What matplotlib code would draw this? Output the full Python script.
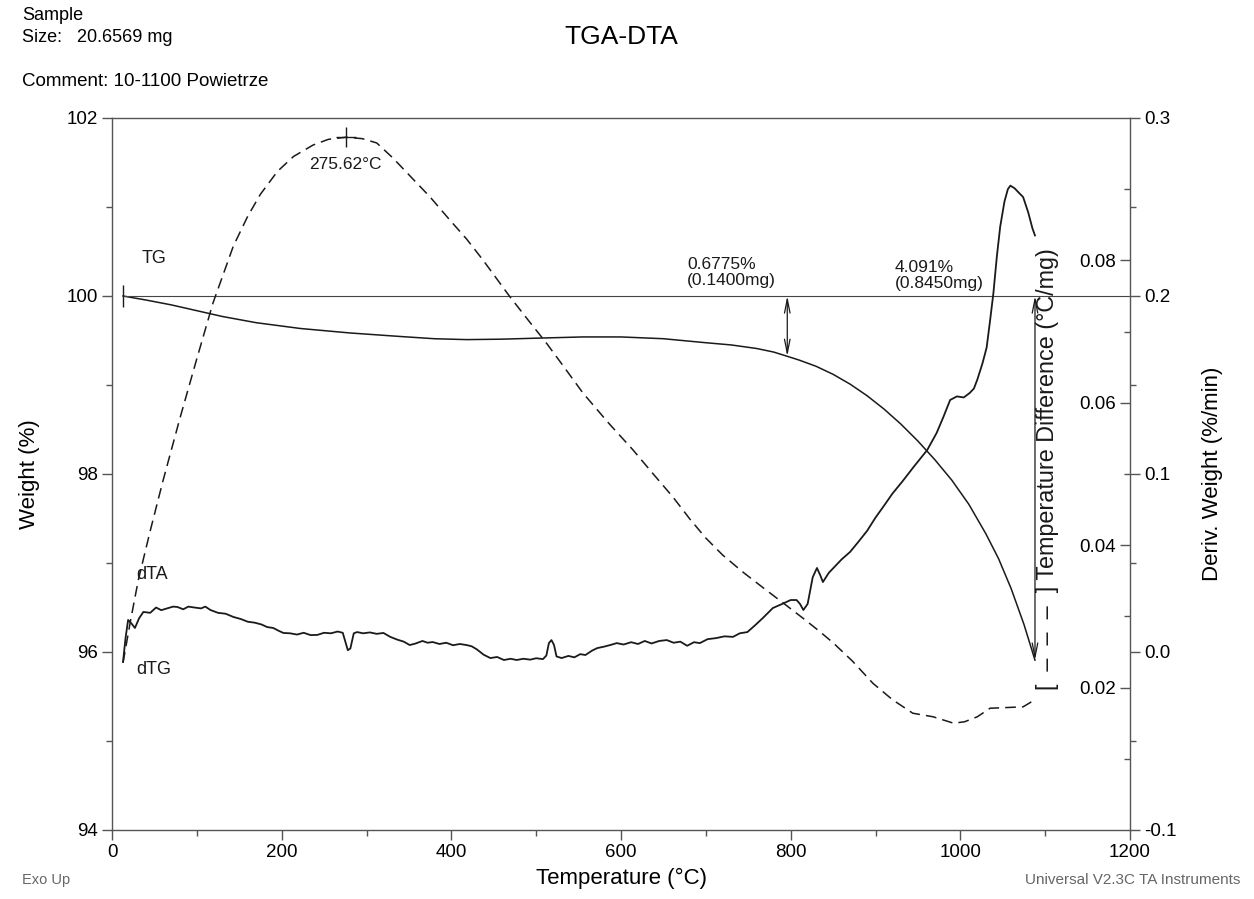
import numpy as np
import matplotlib
matplotlib.use("Agg")
import matplotlib.pyplot as plt
from matplotlib.ticker import MultipleLocator, FixedLocator

plt.rcParams['font.family'] = ['Liberation Sans', 'DejaVu Sans']

# TG curve: temperature (C), weight (%)
tg_t = [13, 40, 70, 100, 130, 170, 222, 280, 340, 380, 418, 460, 496, 555, 600,
        650, 700, 730, 760, 780, 796, 810, 830, 850, 870, 890, 910, 930, 950,
        970, 990, 1010, 1030, 1045, 1060, 1075, 1088]
tg_w = [100.00, 99.955, 99.90, 99.835, 99.77, 99.70, 99.635, 99.585, 99.545,
        99.52, 99.51, 99.515, 99.525, 99.54, 99.54, 99.52, 99.475, 99.45, 99.41,
        99.37, 99.3225, 99.28, 99.21, 99.12, 99.01, 98.88, 98.73, 98.56, 98.37,
        98.16, 97.93, 97.66, 97.33, 97.05, 96.71, 96.31, 95.909]

# DTA curve: temperature (C), temperature difference (C/mg)
dta_t = [13, 22, 31, 45, 60, 80, 100, 119, 143, 160, 175, 195, 214, 237, 255,
         275.62, 295, 312, 331, 351, 375, 398, 418, 437, 453, 469, 490, 512, 533,
         555, 585, 614, 638, 661, 681, 700, 720, 745, 770, 791, 815, 833, 850,
         873, 897, 920, 944, 968, 992, 1005, 1020, 1035, 1055, 1074, 1088]
dta_v = [0.0235, 0.0295, 0.0351, 0.0420, 0.0490, 0.0578, 0.0662, 0.0740, 0.0820,
         0.0862, 0.0893, 0.0925, 0.0946, 0.0962, 0.0970, 0.0973, 0.0971, 0.0965,
         0.0944, 0.0919, 0.0889, 0.0857, 0.0830, 0.0801, 0.0775, 0.0749, 0.0717,
         0.0684, 0.0650, 0.0614, 0.0572, 0.0534, 0.0500, 0.0468, 0.0437, 0.0410,
         0.0386, 0.0361, 0.0338, 0.0319, 0.0297, 0.0280, 0.0263, 0.0237, 0.0206,
         0.0183, 0.0164, 0.0159, 0.0150, 0.0152, 0.0159, 0.0171, 0.0172, 0.0173,
         0.0183]

# dTG curve: temperature (C), deriv. weight (%/min)
dtg_t = [13, 16, 19, 23, 27, 32, 37, 45, 52, 58, 65, 72, 77, 84, 90, 97, 105,
         110, 116, 125, 134, 143, 152, 160, 168, 176, 183, 190, 197, 202, 210,
         218, 226, 234, 242, 250, 258, 266, 272, 275, 278, 281, 285, 289, 296,
         304, 312, 320, 328, 336, 344, 351, 358, 366, 372, 378, 386, 394, 402,
         410, 418, 424, 430, 438, 446, 454, 462, 470, 477, 485, 493, 500, 508,
         512, 515, 518, 521, 524, 530, 538, 545, 552, 558, 566, 572, 580, 588,
         595, 603, 612, 620, 628, 636, 645, 654, 662, 670, 678, 686, 693, 702,
         712, 722, 732, 740, 749, 758, 767, 779, 790, 800, 807, 811, 815, 820,
         826, 831, 835, 838, 845, 852, 860, 870, 880, 890, 900, 909, 920, 932,
         945, 961, 972, 980, 988, 996, 1004, 1011, 1016, 1020, 1026, 1031, 1035,
         1039, 1043, 1047, 1052, 1056, 1059, 1064, 1069, 1074, 1080, 1085, 1088]
dtg_v = [-0.0056, 0.008, 0.018, 0.016, 0.0135, 0.019, 0.0225, 0.022, 0.025,
         0.0235, 0.0245, 0.0255, 0.0253, 0.024, 0.0255, 0.025, 0.0245, 0.0255,
         0.0236, 0.022, 0.0215, 0.0197, 0.0185, 0.017, 0.0165, 0.0155, 0.014,
         0.0135, 0.0118, 0.0107, 0.0105, 0.0098, 0.0108, 0.0095, 0.0096, 0.0108,
         0.0105, 0.0115, 0.0108, 0.006, 0.001, 0.002, 0.0105, 0.0112, 0.0105,
         0.011, 0.0102, 0.0107, 0.0085, 0.007, 0.0058, 0.0039, 0.0048, 0.0062,
         0.0052, 0.0056, 0.0045, 0.0052, 0.0038, 0.0045, 0.0039, 0.0032, 0.0015,
         -0.0015, -0.0034, -0.0028, -0.0045, -0.0038, -0.0045, -0.0038, -0.0043,
         -0.0035, -0.004, -0.002, 0.005, 0.0067, 0.004, -0.0025, -0.0034, -0.0022,
         -0.003, -0.0012, -0.0017, 0.0008, 0.0022, 0.003, 0.004, 0.005, 0.0042,
         0.0055, 0.0045, 0.0062, 0.0048, 0.0062, 0.0067, 0.0052, 0.0058, 0.0035,
         0.0055, 0.005, 0.0072, 0.0078, 0.0088, 0.0085, 0.0105, 0.0112, 0.015,
         0.019, 0.0247, 0.027, 0.0292, 0.0292, 0.027, 0.0236, 0.027, 0.042, 0.0472,
         0.043, 0.0393, 0.0445, 0.048, 0.052, 0.0562, 0.062, 0.068, 0.0755, 0.0815,
         0.089, 0.096, 0.104, 0.1135, 0.123, 0.132, 0.1416, 0.1436, 0.143, 0.1455,
         0.148, 0.153, 0.162, 0.171, 0.186, 0.2017, 0.222, 0.239, 0.253, 0.260,
         0.262, 0.2605, 0.258, 0.2556, 0.247, 0.238, 0.234]

x_ticks = [0, 200, 400, 600, 800, 1000, 1200]
w_ticks = [94, 96, 98, 100, 102]
d_ticks = [-0.1, 0.0, 0.1, 0.2, 0.3]
d_labels = ['-0.1', '0.0', '0.1', '0.2', '0.3']
dta_ticks = [0.02, 0.04, 0.06, 0.08]
dta_labels = ['0.02', '0.04', '0.06', '0.08']

peak_t, peak_v = 275.62, 0.0973
step1_t, step1_loss = 796, 0.6775
step2_t, step2_loss = 1088, 4.091

ink = '#1a1a1a'
frame = '#555555'

fig = plt.figure(figsize=(12.54, 8.99), dpi=100)
ax = fig.add_axes([112/1254, 1-830/899, 1018/1254, 712/899])
ax2 = ax.twinx()
ax3 = ax.twinx()

ax.set_xlim(0, 1200)
ax.set_ylim(94, 102)
ax2.set_ylim(-0.1, 0.3)
ax3.set_ylim(0, 0.1)

ax.plot(tg_t, tg_w, color=ink, lw=1.1)
ax2.plot(dtg_t, dtg_v, color=ink, lw=1.3)
ax3.plot(dta_t, dta_v, color=ink, lw=1.1, dashes=(7, 4))

# reference line at 100 %
ax.plot([tg_t[0], 1200], [100, 100], color='#444444', lw=0.8)
ax.plot([tg_t[0]], [100], marker='|', ms=16, color=ink, mew=1.0)
ax3.plot([peak_t], [peak_v], marker='+', ms=14, color=ink, mew=1.0)

arr = dict(arrowstyle='<->,head_length=1.0,head_width=0.2', lw=0.9, color=ink,
           shrinkA=0, shrinkB=0)
ax.annotate('', xy=(step1_t, 100 - step1_loss), xytext=(step1_t, 100), arrowprops=arr)
ax.annotate('', xy=(step2_t, 100 - step2_loss), xytext=(step2_t, 100), arrowprops=arr)

ax.text(678, 100.09, '0.6775%\n(0.1400mg)', fontsize=12.5, color=ink,
        ha='left', va='bottom', linespacing=1.05)
ax.text(923, 100.06, '4.091%\n(0.8450mg)', fontsize=12.5, color=ink,
        ha='left', va='bottom', linespacing=1.05)
ax3.text(peak_t, 0.0934, '275.62°C', fontsize=12.5, color=ink, ha='center', va='center')
ax.text(35, 100.42, 'TG', fontsize=13, color=ink, ha='left', va='center')
ax.text(28, 96.87, 'dTA', fontsize=13, color=ink, ha='left', va='center')
ax.text(29, 95.80, 'dTG', fontsize=13, color=ink, ha='left', va='center')

# axes, ticks
ax.set_xticks(x_ticks)
ax.xaxis.set_minor_locator(MultipleLocator(100))
ax.set_yticks(w_ticks)
ax.yaxis.set_minor_locator(MultipleLocator(1))
ax.tick_params(which='major', direction='out', length=7, width=1, color=frame,
               labelsize=13.5, pad=3)
ax.tick_params(which='minor', direction='out', length=4, width=1, color=frame)
ax.tick_params(axis='y', right=False, which='both')
ax.tick_params(axis='x', top=False, which='both')

ax2.set_yticks(d_ticks)
ax2.set_yticklabels(d_labels)
ax2.yaxis.set_minor_locator(MultipleLocator(0.05))
ax2.tick_params(which='major', direction='out', length=7, width=1, color=frame,
                labelsize=13.5, pad=3)
ax2.tick_params(which='minor', direction='out', length=4, width=1, color=frame)

ax3.yaxis.set_major_locator(FixedLocator(dta_ticks))
ax3.set_yticklabels(dta_labels)
ax3.yaxis.set_minor_locator(FixedLocator([0.01, 0.03, 0.05, 0.07, 0.09]))
ax3.tick_params(which='major', direction='in', length=7, width=1, color=frame,
                labelsize=13.5, pad=-10)
ax3.tick_params(which='minor', direction='in', length=4, width=1, color=frame)
for lbl in ax3.get_yticklabels():
    lbl.set_horizontalalignment('right')

for a in (ax2, ax3):
    for s in a.spines.values():
        s.set_visible(False)
for s in ax.spines.values():
    s.set_color(frame)
    s.set_linewidth(1.0)

ax.set_xlabel('Temperature (°C)', fontsize=16)
ax.xaxis.set_label_coords(0.5, -0.0534)
ax.set_ylabel('Weight (%)', fontsize=16)
ax.yaxis.set_label_coords(-0.0707, 0.5)
ax2.set_ylabel('Deriv. Weight (%/min)', fontsize=16, rotation=90)
ax2.yaxis.set_label_coords(1.0707, 0.5)
ax3.text(0.9185, 0.1966, '[  –  –  –  ] Temperature Difference (°C/mg)', fontsize=16.8,
         color=ink, rotation=90, ha='center', va='bottom', transform=ax3.transAxes)

# header / footer texts
fig.text(22/1254, 1-16/899, 'Sample', fontsize=13, ha='left', va='center')
fig.text(22/1254, 1-38/899, 'Size:   20.6569 mg', fontsize=13, ha='left', va='center')
fig.text(22/1254, 1-82/899, 'Comment: 10-1100 Powietrze', fontsize=13.5, ha='left', va='center')
fig.text(621/1254, 1-37/899, 'TGA-DTA', fontsize=19, ha='center', va='center')
fig.text(22/1254, 1-880/899, 'Exo Up', fontsize=10.5, color='#666666', ha='left', va='center')
fig.text(1240/1254, 1-880/899, 'Universal V2.3C TA Instruments', fontsize=11,
         color='#666666', ha='right', va='center')

fig.savefig('out.png', dpi=100)
